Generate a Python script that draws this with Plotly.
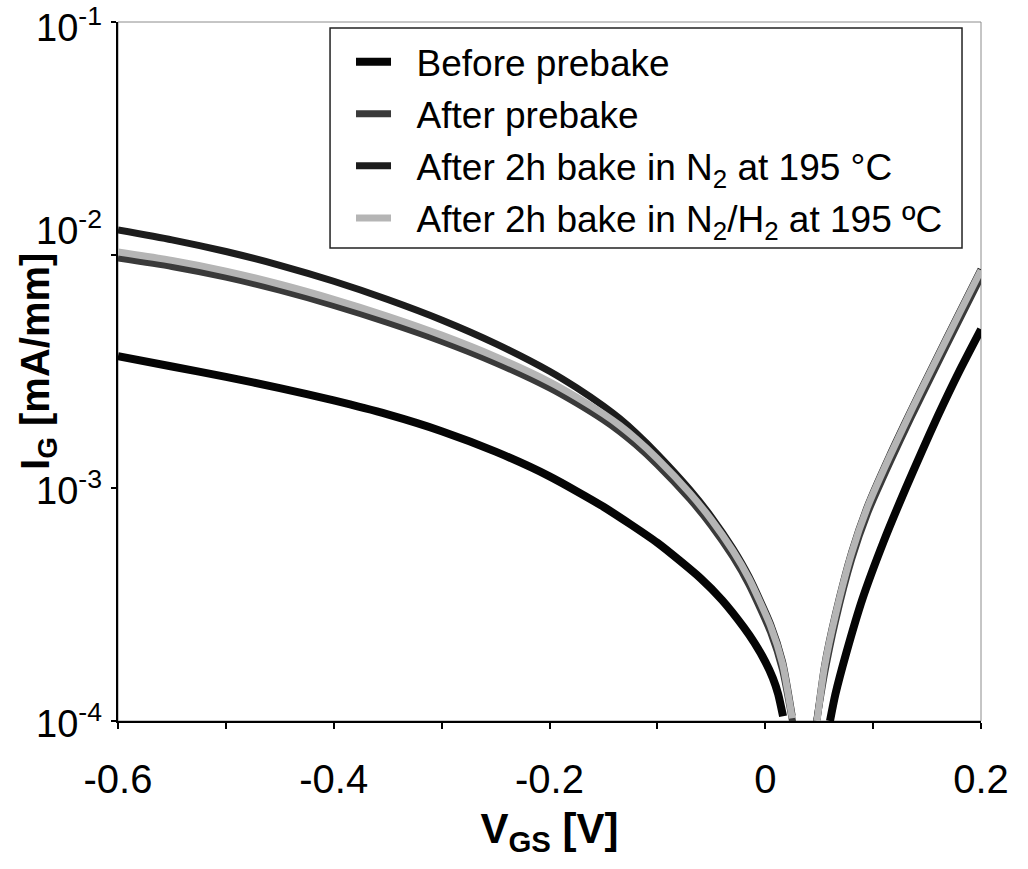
import math
import plotly.graph_objects as go

# ---------------- data ----------------
# Before prebake
V_BEFORE_L = [-0.60, -0.55, -0.50, -0.45, -0.40, -0.35, -0.30, -0.25, -0.20, -0.15,
              -0.10, -0.06, -0.04, -0.02, -0.01, 0.0, 0.007, 0.012, 0.0165]
I_BEFORE_L = [3.68e-3, 3.324e-3, 2.997e-3, 2.684e-3, 2.375e-3, 2.069e-3, 1.753e-3, 1.432e-3, 1.122e-3, 8.31e-4,
              5.82e-4, 4.10e-4, 3.302e-4, 2.527e-4, 2.162e-4, 1.798e-4, 1.530e-4, 1.303e-4, 1.048e-4]
V_BEFORE_R = [0.060, 0.065, 0.075, 0.090, 0.110, 0.130, 0.145, 0.160, 0.180, 0.200]
I_BEFORE_R = [1.0e-4, 1.30e-4, 1.95e-4, 3.33e-4, 5.93e-4, 9.92e-4, 1.43e-3, 2.04e-3, 3.18e-3, 4.8e-3]

# After prebake
V_PRE_L = [-0.60, -0.55, -0.50, -0.45, -0.40, -0.35, -0.30, -0.25, -0.20, -0.175, -0.15, -0.135,
           -0.12, -0.10, -0.07, -0.05, -0.03, -0.015, 0.005, 0.016, 0.027]
I_PRE_L = [9.70e-3, 8.93e-3, 8.04e-3, 7.06e-3, 6.08e-3, 5.14e-3, 4.27e-3, 3.45e-3, 2.69e-3, 2.316e-3, 1.960e-3, 1.749e-3,
           1.534e-3, 1.259e-3, 8.97e-4, 6.90e-4, 5.07e-4, 3.84e-4, 2.403e-4, 1.661e-4, 9.0e-5]
V_PRE_R = [0.046, 0.055, 0.065, 0.080, 0.095, 0.115, 0.135, 0.155, 0.180, 0.200]
I_PRE_R = [9.0e-5, 1.6e-4, 2.67e-4, 4.93e-4, 7.83e-4, 1.27e-3, 2.0e-3, 3.09e-3, 5.28e-3, 8.08e-3]

# After 2h bake in N2 at 195 C
V_N2_L = [-0.60, -0.55, -0.50, -0.45, -0.40, -0.35, -0.30, -0.25, -0.20, -0.175, -0.15, -0.135,
          -0.12, -0.10, -0.07, -0.05, -0.03, -0.015, 0.005, 0.016, 0.025]
I_N2_L = [1.281e-2, 1.162e-2, 1.035e-2, 9.03e-3, 7.716e-3, 6.444e-3, 5.264e-3, 4.167e-3, 3.171e-3, 2.695e-3, 2.248e-3, 1.987e-3,
          1.725e-3, 1.398e-3, 9.85e-4, 7.53e-4, 5.505e-4, 4.163e-4, 2.602e-4, 1.798e-4, 1.049e-4]
V_N2_R = [0.048, 0.055, 0.065, 0.080, 0.095, 0.115, 0.135, 0.155, 0.180, 0.200]
I_N2_R = [1.01e-4, 1.73e-4, 2.87e-4, 5.29e-4, 8.41e-4, 1.37e-3, 2.15e-3, 3.32e-3, 5.68e-3, 8.69e-3]

# After 2h bake in N2/H2 at 195 C
V_NH_L = [-0.60, -0.55, -0.50, -0.45, -0.40, -0.35, -0.30, -0.25, -0.20, -0.175, -0.15, -0.135,
          -0.12, -0.10, -0.07, -0.05, -0.03, -0.015, 0.005, 0.016, 0.025]
I_NH_L = [1.030e-2, 9.48e-3, 8.53e-3, 7.49e-3, 6.45e-3, 5.46e-3, 4.53e-3, 3.66e-3, 2.856e-3, 2.459e-3, 2.081e-3, 1.857e-3,
          1.628e-3, 1.336e-3, 9.52e-4, 7.32e-4, 5.38e-4, 4.08e-4, 2.551e-4, 1.763e-4, 1.028e-4]
V_NH_R = [0.048, 0.055, 0.065, 0.080, 0.095, 0.115, 0.135, 0.155, 0.180, 0.200]
I_NH_R = [1.0e-4, 1.71e-4, 2.84e-4, 5.24e-4, 8.33e-4, 1.355e-3, 2.13e-3, 3.29e-3, 5.62e-3, 8.6e-3]

NAMES = ["Before prebake",
         "After prebake",
         "After 2h bake in N<sub>2</sub> at 195 °C",
         "After 2h bake in N<sub>2</sub>/H<sub>2</sub> at 195 ºC"]
COLORS = ["#050505", "#3a3a3a", "#1c1c1c", "#b5b5b5"]
WIDTHS = [8, 7, 7, 7]

X_TICKS = [-0.6, -0.4, -0.2, 0.0, 0.2]
X_TICKTEXT = ["-0.6", "-0.4", "-0.2", "0", "0.2"]
X_MINOR = [-0.5, -0.3, -0.1, 0.1]
Y_TICKS = [1e-4, 1e-3, 1e-2, 1e-1]
Y_TICKTEXT = ["10<sup>-4</sup>", "10<sup>-3</sup>", "10<sup>-2</sup>", "10<sup>-1</sup>"]
Y_LABEL_YSHIFT = [0, 0, 27, -3]   # the 10^-2 label sits higher in the original

SERIES = [
    (V_BEFORE_L, I_BEFORE_L, V_BEFORE_R, I_BEFORE_R),
    (V_PRE_L, I_PRE_L, V_PRE_R, I_PRE_R),
    (V_N2_L, I_N2_L, V_N2_R, I_N2_R),
    (V_NH_L, I_NH_L, V_NH_R, I_NH_R),
]

FONT = "Liberation Sans, Arial, Helvetica, sans-serif"
NBSP = "\u00a0"

fig = go.Figure()
for k, (vl, il, vr, ir) in enumerate(SERIES):
    fig.add_trace(go.Scatter(
        x=list(vl) + [None] + list(vr),
        y=list(il) + [None] + list(ir),
        mode="lines",
        name=NBSP * 2 + NAMES[k],
        legendgroup=str(k),
        line=dict(color=COLORS[k], width=WIDTHS[k], shape="spline", smoothing=0.6),
        connectgaps=False,
        hoverinfo="skip",
    ))

annotations = []
for val, txt, dy in zip(Y_TICKS, Y_TICKTEXT, Y_LABEL_YSHIFT):
    annotations.append(dict(
        xref="paper", x=0, xanchor="right", xshift=-14,
        yref="y", y=math.log10(val), yanchor="middle", yshift=dy,
        text=txt, showarrow=False,
        font=dict(family=FONT, size=38, color="black"),
    ))
annotations.append(dict(
    xref="paper", x=0, xanchor="center", xshift=-80,
    yref="paper", y=0.5136, yanchor="middle",
    text="<b>I<sub>G</sub> [mA/mm]</b>", textangle=-90, showarrow=False,
    font=dict(family=FONT, size=40, color="black"),
))

fig.update_layout(
    width=1028, height=869,
    margin=dict(l=118, r=47, t=22, b=148, pad=0),
    paper_bgcolor="white", plot_bgcolor="white",
    font=dict(family=FONT, color="black"),
    showlegend=True,
    legend=dict(
        x=0.27, y=0.987, xanchor="left", yanchor="top",
        bgcolor="rgba(0,0,0,0)", borderwidth=0,
        font=dict(family=FONT, size=37, color="black"),
        itemwidth=35, tracegroupgap=1,
    ),
    xaxis=dict(
        range=[-0.6, 0.2], tickvals=X_TICKS, ticktext=X_TICKTEXT,
        ticks="outside", ticklen=6, tickwidth=1.5, tickcolor="black",
        minor=dict(tickvals=X_MINOR, ticks="outside", ticklen=6, tickwidth=1.5, tickcolor="black",
                   showgrid=False),
        showline=True, linecolor="black", linewidth=2,
        showgrid=False, zeroline=False,
        tickfont=dict(family=FONT, size=40, color="black"),
        ticklabelstandoff=16,
        title=dict(text="<b>V<sub>GS</sub> [V]</b>", font=dict(family=FONT, size=42, color="black"),
                   standoff=14),
    ),
    yaxis=dict(
        type="log", range=[-4, -1], tickvals=Y_TICKS, showticklabels=False,
        ticks="outside", ticklen=5, tickwidth=1.5, tickcolor="black",
        showline=True, linecolor="black", linewidth=2,
        showgrid=False, zeroline=False,
    ),
    annotations=annotations,
    shapes=[
        dict(type="rect", xref="paper", yref="paper", x0=0, x1=1, y0=0, y1=1,
             line=dict(color="#8c8c8c", width=1), layer="below"),
        dict(type="rect", xref="paper", yref="paper", x0=0.2457, x1=0.978, y0=0.6767, y1=0.9914,
             line=dict(color="#222222", width=1.5), fillcolor="rgba(0,0,0,0)", layer="above"),
    ],
)

fig.write_html("out.html")
